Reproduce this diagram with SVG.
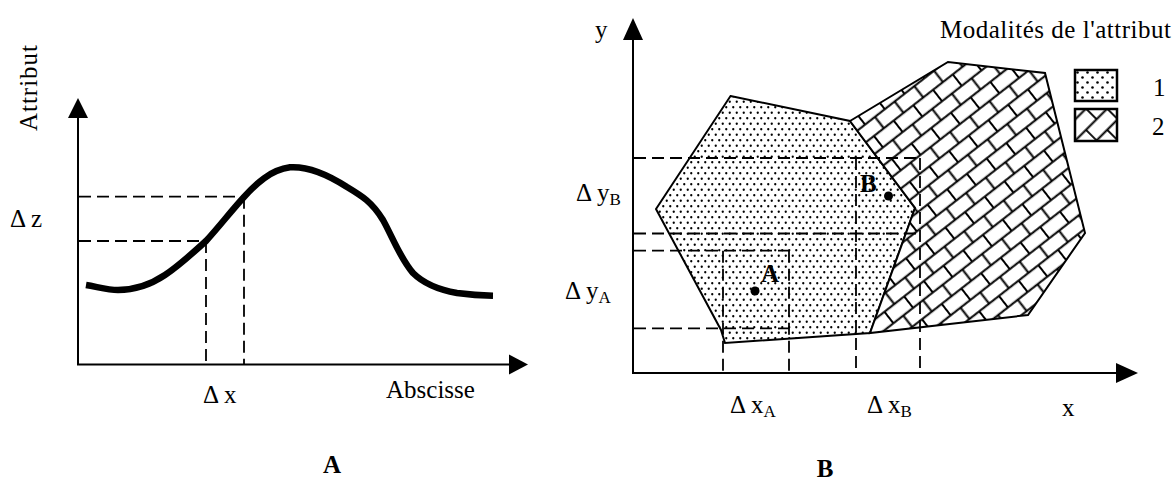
<svg xmlns="http://www.w3.org/2000/svg" width="1174" height="481" viewBox="0 0 1174 481">
<style>
  text { font-family: "Liberation Serif", "Times New Roman", serif; font-size: 25px; fill: #000; }
  .bold { font-weight: bold; }
  .sub { font-size: 17px; }
  .axis { stroke: #000; stroke-width: 2; fill: none; }
  .dash { stroke: #000; stroke-width: 1.8; fill: none; stroke-dasharray: 12 6; }
  .curve { stroke: #000; stroke-width: 6.5; fill: none; stroke-linecap: butt; stroke-linejoin: round; }
  .poly { stroke: #000; stroke-width: 2; stroke-linejoin: miter; }
  .head { fill: #000; stroke: none; }
</style>
<defs>
  <pattern id="dots" patternUnits="userSpaceOnUse" width="7" height="11">
    <rect width="7" height="11" fill="#fff"/>
    <circle cx="1.75" cy="2.75" r="1.15" fill="#000"/>
    <circle cx="5.25" cy="8.25" r="1.15" fill="#000"/>
  </pattern>
  <pattern id="dotsLegend" patternUnits="userSpaceOnUse" width="10" height="10" x="1075" y="70">
    <rect width="10" height="10" fill="#fff"/>
    <circle cx="2.5" cy="2.5" r="1.3" fill="#000"/>
    <circle cx="7.5" cy="7.5" r="1.3" fill="#000"/>
  </pattern>
  <pattern id="bricks" patternUnits="userSpaceOnUse" width="25" height="29" patternTransform="rotate(-38)">
    <rect width="25" height="29" fill="#fff"/>
    <path d="M0 7.25H25M0 21.75H25M5 7.25V21.75M17.5 21.75V29M17.5 0V7.25" stroke="#000" stroke-width="2" fill="none"/>
  </pattern>
  <pattern id="bricksLegend" patternUnits="userSpaceOnUse" width="30" height="30" patternTransform="translate(1075 109) rotate(-45)">
    <rect width="30" height="30" fill="#fff"/>
    <path d="M0 7.5H30M0 22.5H30M8 7.5V22.5M23 22.5V30M23 0V7.5" stroke="#000" stroke-width="1.8" fill="none"/>
  </pattern>
</defs>

<g id="panelA">
  <g id="panelA-axes">
    <line class="axis" x1="78" y1="116" x2="78" y2="365"/>
    <polygon class="head" points="78,98 68,118 88,118"/>
    <line class="axis" x1="77" y1="364.5" x2="511" y2="364.5"/>
    <polygon class="head" points="528,364.5 509,354.5 509,374.5"/>
  </g>
  <g id="panelA-dashes">
    <path class="dash" d="M79 196.7H244M79 241H206M206 241V364M244 196.7V364"/>
  </g>
  <path id="panelA-curve" class="curve" d="M86 285 C98 287 108 290 118 290 C135 290 150 285 165 275 C180 265 195 251 206 241 C218 228 232 210 244 197 C256 184 270 170 290 167.3 C310 166 330 176 347 187 C362 196 372 202 383 220 C392 236 400 258 413 273 C425 285 440 290 457 293 C472 295 482 295.5 493 295.7"/>
  <g id="panelA-labels">
    <text transform="translate(37,131) rotate(-90)" textLength="86" lengthAdjust="spacing">Attribut</text>
    <text x="10" y="227">Δ z</text>
    <text x="203" y="403">Δ x</text>
    <text x="386" y="398">Abscisse</text>
    <text class="bold" x="332" y="473" text-anchor="middle">A</text>
  </g>
</g>

<g id="panelB">
  <g id="zone1">
    <polygon class="poly" fill="url(#dots)" points="730.5,96 850,121 915,208 870,333 725,343 721,330 656,209"/>
  </g>
  <g id="zone2">
    <polygon class="poly" fill="url(#bricks)" points="850,121 948,62 1045,73 1085,233 1028,315 870,333 915,208"/>
  </g>
  <g id="panelB-dashes">
    <path class="dash" d="M634 158H920M634 233.5H920M856 158V372M920 158V372"/>
    <path class="dash" d="M634 250.7H789M634 328.3H789M723 250.7V372M789 250.7V372"/>
  </g>
  <g id="panelB-axes">
    <line class="axis" x1="633" y1="38" x2="633" y2="374"/>
    <polygon class="head" points="633,18 623,40 643,40"/>
    <line class="axis" x1="632" y1="373" x2="1118" y2="373"/>
    <polygon class="head" points="1138,373 1116,363 1116,383"/>
  </g>
  <g id="pointA">
    <circle cx="755" cy="291" r="4.5" fill="#000"/>
    <text class="bold" x="761" y="282">A</text>
  </g>
  <g id="pointB">
    <circle cx="888.5" cy="196" r="4.5" fill="#000"/>
    <text class="bold" x="860" y="192">B</text>
  </g>
  <g id="panelB-labels">
    <text x="595" y="38">y</text>
    <text x="1062" y="416">x</text>
    <text x="576" y="201">Δ y<tspan class="sub" dy="4">B</tspan></text>
    <text x="565" y="299">Δ y<tspan class="sub" dy="4">A</tspan></text>
    <text x="730" y="413">Δ x<tspan class="sub" dy="4">A</tspan></text>
    <text x="867" y="413">Δ x<tspan class="sub" dy="4">B</tspan></text>
    <text class="bold" x="825" y="477" text-anchor="middle">B</text>
  </g>
  <g id="legend">
    <text x="940" y="38" textLength="231" lengthAdjust="spacing">Modalités de l'attribut</text>
    <g id="legend-1">
      <rect x="1075" y="70" width="42" height="31" fill="url(#dotsLegend)" stroke="#000" stroke-width="2.5"/>
      <text x="1153" y="96">1</text>
    </g>
    <g id="legend-2">
      <rect x="1075" y="109" width="42" height="32" fill="url(#bricksLegend)" stroke="#000" stroke-width="2.5"/>
      <text x="1152" y="135">2</text>
    </g>
  </g>
</g>
</svg>
